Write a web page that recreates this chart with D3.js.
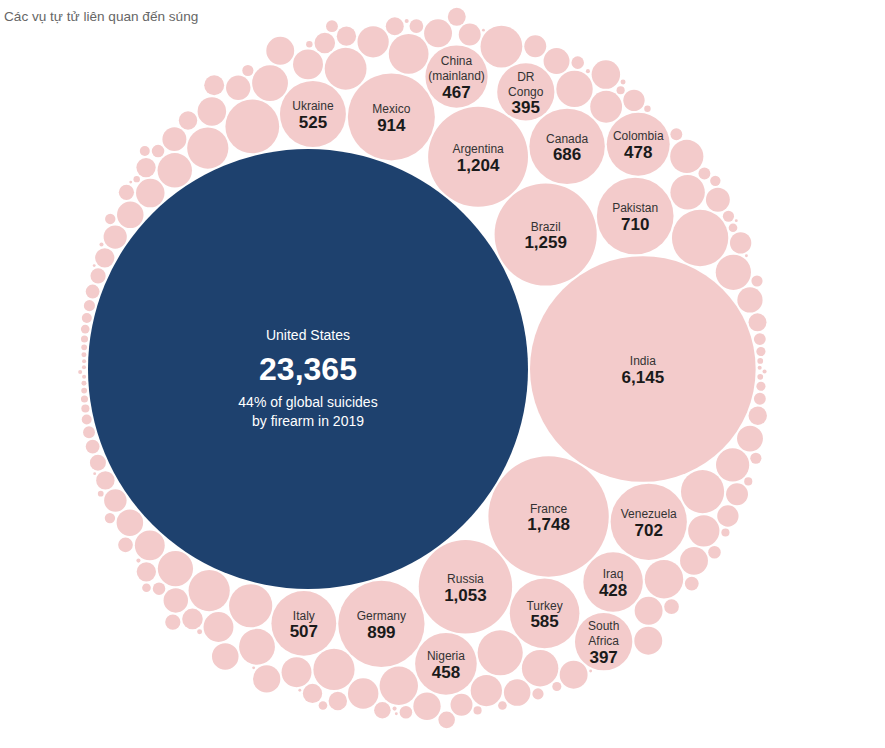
<!DOCTYPE html>
<html><head><meta charset="utf-8">
<script src="https://cdn.jsdelivr.net/npm/d3@7"></script>
<style>
body{margin:0;background:#fff;}
svg{display:block;font-family:"Liberation Sans",Arial,Helvetica,sans-serif;}
</style>
</head><body>
<svg id="chart" width="885" height="748"></svg>
<script>
const titleText = "Các vụ tự tử liên quan đến súng";
const highlightName = "United States";
const highlightNote = ["44% of global suicides", "by firearm in 2019"];

const labeledNames = ["United States","India","France","Brazil","Argentina","Russia","Mexico","Germany",
  "Pakistan","Venezuela","Canada","Turkey","Ukraine","Italy","Colombia","China (mainland)","Nigeria",
  "Iraq","South Africa","DR Congo"];
const labeledValues = [23365,6145,1748,1259,1204,1053,914,899,710,702,686,585,525,507,478,467,458,428,397,395];

// unlabeled countries, values estimated from circle sizes
const otherValues = [383,349,246,225,225,211,211,205,205,205,191,178,178,160,160,155,155,150,150,
  143,143,133,133,122,118,118,118,112,108,108,108,108,98,98,98,94,94,94,94,94,94,90,90,85,85,85,85,
  81,81,77,72,72,69,69,65,61,58,58,58,58,55,55,55,51,51,
  48,45,45,45,45,45,41,41,41,41,39,39,39,33,33,31,28,28,28,26,26,23,23,23,23,19,19,19,19,19,
  17,17,17,17,17,17,15,15,15,15,15,15,13,13,13,12,12,12,10,10,10,9,9,9,9,9,8,8,8,8,8,
  6,6,5,5,5,4,4,3,4,3,4,3,4,3,2,2,2,2,2,2,2,2,2,2,2,1,1,1,1,1,1,1,1,1,1];

const W = 885, H = 748;
const svg = d3.select("#chart");

const items = labeledNames.map((n,i)=>({name:n, value:labeledValues[i]}))
  .concat(otherValues.map(v=>({name:null, value:v})));

const rScale = d3.scaleSqrt().domain([0, 23365]).range([0, 220]);

const root = d3.hierarchy({children: items}).sum(d => d.value || 0)
  .sort((a,b) => b.value - a.value);

d3.pack().size([W,H]).radius(d => rScale(d.value)).padding(2)(root);

const leaves = root.leaves();
const us = leaves.find(d => d.data.name === highlightName);
const dx = 308 - us.x, dy = 369 - us.y;

svg.append("text").attr("x",4).attr("y",21)
  .attr("font-size",13.6).attr("fill","#666").text(titleText);

const g = svg.append("g").attr("transform",`translate(${dx},${dy})`);

g.selectAll("circle").data(leaves).join("circle")
  .attr("cx", d=>d.x).attr("cy", d=>d.y).attr("r", d=>d.r)
  .attr("fill", d => d.data.name === highlightName ? "#1e416e" : "#f3cbcb");

const fmt = d3.format(",");

leaves.filter(d => d.data.name && d.data.name !== highlightName).forEach(d => {
  const nm = d.data.name;
  const sp = nm.indexOf(" ");
  const lines = sp > 0 ? [nm.slice(0,sp), nm.slice(sp+1)] : [nm];
  const step = 15;
  const y0 = d.y - lines.length*step/2 - 0.5;
  const t = g.append("g");
  lines.forEach((l,i) => {
    t.append("text").attr("x", d.x).attr("y", y0 + i*step).attr("dy","0.35em")
      .attr("text-anchor","middle").attr("font-size",12).attr("fill","#333").text(l);
  });
  t.append("text").attr("x", d.x).attr("y", y0 + lines.length*step + 1).attr("dy","0.35em")
    .attr("text-anchor","middle").attr("font-size",17).attr("font-weight","bold")
    .attr("fill","#1a1a1a").text(fmt(d.data.value));
});

const ug = g.append("g").attr("fill","#fff").attr("text-anchor","middle");
ug.append("text").attr("x",us.x).attr("y",us.y-34).attr("dy","0.35em").attr("font-size",14).text(highlightName);
ug.append("text").attr("x",us.x).attr("y",us.y).attr("dy","0.35em").attr("font-size",32).attr("font-weight","bold").text(fmt(us.data.value));
highlightNote.forEach((l,i)=>{
  ug.append("text").attr("x",us.x).attr("y",us.y+33+i*19).attr("dy","0.35em").attr("font-size",14).text(l);
});
</script>
</body></html>
